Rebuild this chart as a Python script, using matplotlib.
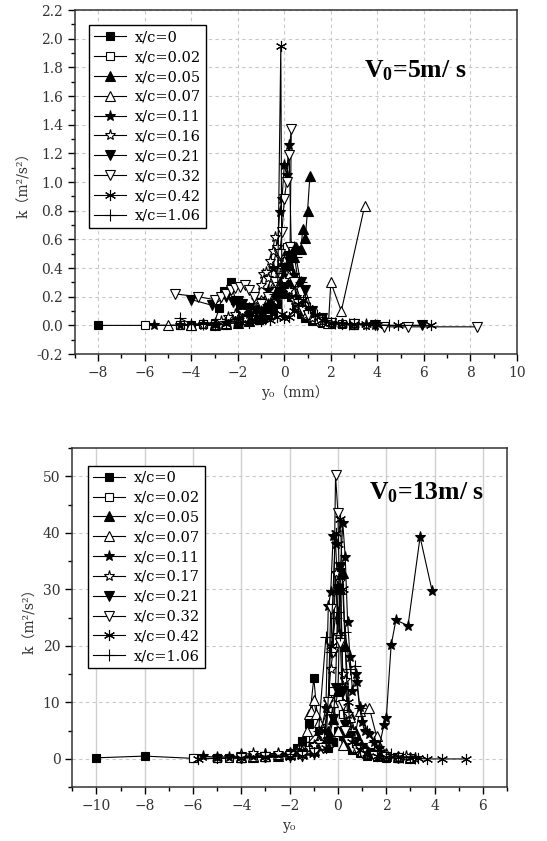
import matplotlib
matplotlib.use("Agg")
import matplotlib.pyplot as plt
from matplotlib.ticker import MultipleLocator, FormatStrFormatter

plt.rcParams['mathtext.fontset'] = 'custom'
plt.rcParams['mathtext.rm'] = 'Liberation Serif'
plt.rcParams['mathtext.bf'] = 'Liberation Serif:bold'
plt.rcParams['axes.unicode_minus'] = True

labels_top = ["x/c=0", "x/c=0.02", "x/c=0.05", "x/c=0.07", "x/c=0.11",
              "x/c=0.16", "x/c=0.21", "x/c=0.32", "x/c=0.42", "x/c=1.06"]
labels_bot = ["x/c=0", "x/c=0.02", "x/c=0.05", "x/c=0.07", "x/c=0.11",
              "x/c=0.17", "x/c=0.21", "x/c=0.32", "x/c=0.42", "x/c=1.06"]

# ---------------- V0 = 5 m/s ----------------
t0_x = [-8, -4.5, -4.0, -3.5, -3.0, -2.8, -2.6, -2.3, -2.1, -1.9, -1.7, -1.5, -1.3, -1.1, -0.9, -0.7, -0.5, -0.3, -0.1, 0.1, 0.3, 0.5, 0.7, 0.9, 1.2, 1.6, 2.0, 3.0]
t0_y = [0.0, 0.0, 0.0, 0.01, 0.02, 0.12, 0.24, 0.30, 0.18, 0.12, 0.09, 0.07, 0.05, 0.04, 0.05, 0.07, 0.10, 0.15, 0.22, 0.28, 0.20, 0.12, 0.08, 0.05, 0.03, 0.02, 0.01, 0.0]
t1_x = [-6, -4.5, -3.5, -3.0, -2.5, -2.0, -1.6, -1.2, -0.8, -0.5, -0.3, -0.1, 0.1, 0.3, 0.5, 0.7, 0.9, 1.2, 1.6, 2.0, 2.5, 3.0]
t1_y = [0.0, 0.0, 0.01, 0.01, 0.02, 0.03, 0.04, 0.06, 0.10, 0.18, 0.30, 0.45, 0.55, 0.48, 0.30, 0.15, 0.08, 0.05, 0.03, 0.02, 0.01, 0.0]
t2_x = [-4.0, -3.0, -2.5, -2.0, -1.5, -1.2, -1.0, -0.8, -0.6, -0.4, -0.2, 0.0, 0.2, 0.4, 0.5, 0.7, 0.8, 0.9, 1.0, 1.1]
t2_y = [0.0, 0.0, 0.01, 0.02, 0.03, 0.05, 0.08, 0.12, 0.18, 0.22, 0.28, 0.35, 0.42, 0.48, 0.55, 0.53, 0.67, 0.61, 0.80, 1.04]
t3_x = [-5.0, -4.0, -3.0, -2.5, -2.0, -1.5, -1.0, -0.7, -0.4, -0.2, 0.0, 0.2, 0.4, 0.6, 0.8, 1.0, 1.3, 1.6, 1.9, 2.0, 2.45, 3.45]
t3_y = [0.0, 0.0, 0.01, 0.02, 0.05, 0.10, 0.18, 0.22, 0.30, 0.40, 0.45, 0.35, 0.25, 0.18, 0.12, 0.08, 0.05, 0.03, 0.02, 0.30, 0.10, 0.83]
t4_x = [-5.6, -4.5, -3.5, -3.0, -2.5, -2.0, -1.5, -1.0, -0.7, -0.5, -0.3, -0.2, -0.1, 0.0, 0.1, 0.2, 0.3, 0.4, 0.5, 0.7, 0.9, 1.2, 1.6, 2.0, 2.5, 3.0, 3.5, 3.9]
t4_y = [0.0, 0.0, 0.01, 0.01, 0.03, 0.05, 0.08, 0.12, 0.25, 0.40, 0.55, 0.79, 0.88, 1.12, 1.05, 1.26, 0.55, 0.35, 0.20, 0.12, 0.08, 0.05, 0.03, 0.02, 0.01, 0.01, 0.0, 0.0]
t5_x = [-3.5, -3.0, -2.7, -2.4, -2.1, -1.8, -1.5, -1.2, -1.0, -0.9, -0.8, -0.7, -0.6, -0.5, -0.4, -0.3, -0.2, -0.1, 0.0, 0.2, 0.4, 0.6, 0.9, 1.2, 1.6, 2.0, 2.5, 3.0, 3.5]
t5_y = [0.0, 0.01, 0.03, 0.06, 0.08, 0.10, 0.12, 0.18, 0.28, 0.36, 0.37, 0.33, 0.45, 0.52, 0.62, 0.55, 0.48, 0.40, 0.32, 0.25, 0.18, 0.12, 0.07, 0.05, 0.03, 0.02, 0.01, 0.01, 0.0]
t6_x = [-4.0, -3.1, -2.5, -2.2, -2.0, -1.8, -1.5, -1.2, -0.9, -0.6, -0.3, 0.0, 0.2, 0.4, 0.6, 0.7, 0.9, 1.2, 1.6, 2.0, 3.0, 3.9, 5.9]
t6_y = [0.18, 0.14, 0.20, 0.16, 0.17, 0.15, 0.12, 0.10, 0.08, 0.12, 0.20, 0.40, 0.48, 0.52, 0.30, 0.30, 0.25, 0.10, 0.05, 0.02, 0.01, 0.0, 0.0]
t7_x = [-4.7, -3.7, -3.0, -2.7, -2.5, -2.3, -2.1, -1.9, -1.7, -1.5, -1.3, -1.0, -0.7, -0.4, -0.2, -0.1, 0.0, 0.1, 0.2, 0.3, 0.25, 0.4, 0.6, 0.8, 1.0, 1.5, 2.0, 3.0, 4.3, 5.3, 8.3]
t7_y = [0.22, 0.20, 0.18, 0.20, 0.22, 0.25, 0.26, 0.27, 0.28, 0.25, 0.20, 0.15, 0.20, 0.30, 0.50, 0.65, 0.88, 1.00, 1.19, 1.37, 0.55, 0.30, 0.15, 0.10, 0.07, 0.04, 0.02, 0.01, -0.01, -0.01, -0.01]
t8_x = [-3.0, -2.5, -2.0, -1.5, -1.0, -0.6, -0.3, -0.15, -0.1, 0.0, 0.2, 0.4, 0.6, 0.8, 1.0, 1.3, 1.6, 2.0, 2.5, 3.0, 3.5, 4.0, 4.9, 6.3]
t8_y = [0.0, 0.01, 0.02, 0.02, 0.03, 0.04, 0.06, 1.95, 0.08, 0.05, 0.06, 0.10, 0.15, 0.18, 0.12, 0.07, 0.04, 0.02, 0.01, 0.01, 0.01, 0.0, 0.0, 0.0]
t9_x = [-4.5, -4.0, -3.5, -3.0, -2.5, -2.0, -1.5, -1.0, -0.7, -0.4, -0.2, 0.0, 0.2, 0.4, 0.5, 0.7, 0.9, 1.1, 1.4, 1.8, 2.2, 2.8, 3.5, 4.5]
t9_y = [0.05, 0.01, 0.01, 0.02, 0.03, 0.05, 0.07, 0.10, 0.15, 0.22, 0.30, 0.40, 0.50, 0.55, 0.48, 0.30, 0.20, 0.12, 0.07, 0.04, 0.02, 0.01, 0.01, 0.0]

# ---------------- V0 = 13 m/s ----------------
b0_x = [-10, -8, -6, -5, -4, -3, -2.5, -2, -1.7, -1.5, -1.2, -1.0, -0.8, -0.6, -0.4, -0.2, 0.0, 0.2, 0.4, 0.6, 0.9, 1.2, 1.6, 2.0, 2.5]
b0_y = [0.2, 0.5, 0.1, 0.1, 0.2, 0.3, 0.5, 1.0, 2.0, 3.2, 6.2, 14.3, 5.0, 3.0, 2.0, 3.0, 5.0, 4.0, 2.5, 1.5, 1.0, 0.6, 0.4, 0.2, 0.1]
b1_x = [-6, -5, -4.5, -4, -3.5, -3, -2.5, -2, -1.5, -1.0, -0.7, -0.4, -0.2, 0.0, 0.1, 0.2, 0.4, 0.6, 0.8, 1.0, 1.3, 1.6, 2.0, 2.5, 3.0]
b1_y = [0.1, 0.1, 0.1, 0.2, 0.3, 0.4, 0.5, 0.7, 1.0, 2.0, 5.5, 9.0, 12.0, 11.0, 12.5, 8.0, 5.0, 3.0, 2.0, 1.2, 0.8, 0.5, 0.3, 0.2, 0.1]
b2_x = [-4, -3.5, -3, -2.5, -2, -1.5, -1.0, -0.6, -0.4, -0.2, 0.0, 0.1, 0.2, 0.3, 0.5, 0.7, 0.9, 1.2, 1.5, 2.0, 2.5, 3.0]
b2_y = [0.3, 0.4, 0.5, 0.6, 0.8, 1.0, 1.5, 3.0, 5.0, 7.0, 12.0, 30.0, 33.0, 20.0, 8.0, 5.0, 3.0, 1.5, 1.0, 0.5, 0.3, 0.2]
b3_x = [-4, -3.5, -3, -2.5, -2, -1.6, -1.3, -1.2, -1.1, -1.0, -0.9, -0.8, -0.6, -0.4, -0.2, 0.0, 0.2, 0.4, 0.5, 0.7, 0.9, 1.1, 1.3, 1.6, 2.0, 2.5, 3.0]
b3_y = [0.3, 0.5, 0.6, 0.8, 1.0, 2.0, 5.0, 8.0, 8.5, 10.5, 8.0, 6.5, 4.0, 3.0, 10.0, 5.0, 2.5, 6.0, 7.5, 4.0, 8.5, 9.0, 9.0, 4.0, 1.0, 0.5, 0.3]
b4_x = [-5.6, -5.0, -4.5, -4.0, -3.5, -3.0, -2.5, -2.0, -1.5, -1.0, -0.7, -0.5, -0.4, -0.3, -0.2, -0.1, 0.0, 0.1, 0.2, 0.3, 0.4, 0.5, 0.6, 0.75, 0.8, 0.9, 1.0, 1.1, 1.3, 1.5, 1.7, 1.9, 2.0, 2.2, 2.4, 2.9, 3.4, 3.9]
b4_y = [0.5, 0.3, 0.4, 0.5, 0.6, 0.8, 0.9, 1.0, 1.2, 2.0, 5.0, 9.0, 27.0, 29.5, 39.5, 38.0, 30.0, 33.5, 41.8, 35.8, 24.3, 18.1, 12.0, 15.1, 13.6, 9.2, 6.5, 5.0, 4.5, 3.0, 2.0, 6.0, 7.2, 20.1, 24.6, 23.6, 39.3, 29.7]
b5_x = [-4.0, -3.5, -3.0, -2.5, -2.0, -1.5, -1.2, -1.0, -0.8, -0.6, -0.4, -0.3, -0.2, -0.1, 0.0, 0.1, 0.2, 0.3, 0.4, 0.6, 0.8, 1.0, 1.3, 1.6, 2.0, 2.5, 2.8, 3.2]
b5_y = [0.8, 1.0, 0.9, 1.0, 1.1, 1.5, 2.0, 2.5, 3.0, 4.0, 10.0, 16.0, 19.0, 33.0, 22.0, 31.5, 15.0, 14.0, 8.0, 5.0, 3.0, 2.0, 1.0, 0.6, 0.4, 0.3, 0.5, 0.2]
b6_x = [-4.0, -3.0, -2.0, -1.5, -1.0, -0.6, -0.4, -0.2, -0.1, 0.0, 0.1, 0.2, 0.3, 0.5, 0.7, 1.0, 1.3, 1.6, 2.0, 2.5]
b6_y = [0.2, 0.3, 0.5, 0.8, 1.0, 2.0, 3.0, 7.0, 12.5, 30.0, 34.0, 12.0, 6.0, 4.0, 3.0, 2.0, 1.0, 0.6, 0.3, 0.2]
b7_x = [-4.0, -3.0, -2.0, -1.5, -1.0, -0.6, -0.4, -0.3, -0.2, -0.1, 0.0, 0.1, 0.2, 0.3, 0.4, 0.6, 0.8, 1.0, 1.5, 2.0, 2.5]
b7_y = [0.2, 0.3, 0.5, 0.6, 1.0, 2.0, 10.0, 26.5, 19.0, 50.2, 43.5, 20.5, 9.5, 5.0, 3.0, 2.0, 1.5, 1.0, 0.5, 0.3, 0.2]
b8_x = [-5.8, -5.0, -4.0, -3.0, -2.0, -1.5, -1.0, -0.5, -0.3, -0.1, 0.0, 0.1, 0.2, 0.4, 0.6, 0.9, 1.2, 1.6, 2.0, 2.5, 3.0, 3.3, 3.7, 4.3, 5.3]
b8_y = [0.0, 0.1, 0.2, 0.3, 0.4, 0.5, 0.8, 2.0, 20.0, 40.0, 38.0, 42.5, 30.0, 10.0, 3.0, 1.5, 1.0, 0.6, 0.4, 0.3, 0.2, 0.1, 0.0, 0.0, 0.0]
b9_x = [-4.0, -3.0, -2.0, -1.6, -1.2, -0.8, -0.5, -0.3, -0.1, 0.0, 0.1, 0.3, 0.5, 0.7, 0.9, 1.2, 1.5, 1.8, 2.2, 2.7, 3.2]
b9_y = [0.3, 0.5, 0.8, 2.5, 3.0, 5.0, 21.5, 19.0, 25.0, 26.0, 22.0, 22.5, 16.0, 16.5, 9.0, 5.0, 3.0, 1.5, 0.8, 0.4, 0.2]

top_series = [(t0_x, t0_y), (t1_x, t1_y), (t2_x, t2_y), (t3_x, t3_y), (t4_x, t4_y),
              (t5_x, t5_y), (t6_x, t6_y), (t7_x, t7_y), (t8_x, t8_y), (t9_x, t9_y)]
bot_series = [(b0_x, b0_y), (b1_x, b1_y), (b2_x, b2_y), (b3_x, b3_y), (b4_x, b4_y),
              (b5_x, b5_y), (b6_x, b6_y), (b7_x, b7_y), (b8_x, b8_y), (b9_x, b9_y)]

styles = [
    dict(marker='s', mfc='black', ms=5.5),
    dict(marker='s', mfc='white', ms=5.5),
    dict(marker='^', mfc='black', ms=7),
    dict(marker='^', mfc='white', ms=7),
    dict(marker='*', mfc='black', ms=8),
    dict(marker='*', mfc='white', ms=8),
    dict(marker='v', mfc='black', ms=7),
    dict(marker='v', mfc='white', ms=7),
    dict(marker=(6, 2, 0), mfc='black', ms=8),
    dict(marker='+', mfc='black', ms=8),
]

FONT = ['DejaVu Serif', 'Noto Sans CJK SC']
TICKFS = 10

fig = plt.figure(figsize=(5.47, 8.41), dpi=100)
ax1 = fig.add_axes([0.137, 0.579, 0.808, 0.409])
ax2 = fig.add_axes([0.132, 0.064, 0.795, 0.403])


def draw(ax, series, labels):
    for (xs, ys), st, lab in zip(series, styles, labels):
        ax.plot(xs, ys, color='black', lw=0.8, mec='black', mew=0.8,
                label=lab, **st)


def style_axes(ax):
    for sp in ax.spines.values():
        sp.set_linewidth(1.1)
        sp.set_color('#333333')
    ax.tick_params(which='major', direction='out', length=5, width=1,
                   labelsize=TICKFS, top=False, right=False)
    ax.tick_params(which='minor', direction='out', length=3, width=1,
                   top=False, right=False)
    for lab in ax.get_xticklabels() + ax.get_yticklabels():
        lab.set_family(FONT)
        lab.set_color('#333333')


draw(ax1, top_series, labels_top)
ax1.set_xlim(-9, 10)
ax1.set_ylim(-0.2, 2.2)
ax1.xaxis.set_major_locator(MultipleLocator(2))
ax1.xaxis.set_minor_locator(MultipleLocator(1))
ax1.yaxis.set_major_locator(MultipleLocator(0.2))
ax1.yaxis.set_minor_locator(MultipleLocator(0.1))
ax1.yaxis.set_major_formatter(FormatStrFormatter('%.1f'))
ax1.grid(True, which='major', color='#c8c8c8', ls=(0, (3, 3)), lw=0.8)
ax1.set_axisbelow(True)
style_axes(ax1)
ax1.set_xlabel('y₀（mm）', family=FONT, fontsize=10, color='#333333')
ax1.set_ylabel('k（m²/s²）', family=FONT, fontsize=10, color='#333333')
leg1 = ax1.legend(loc='upper left', bbox_to_anchor=(0.016, 0.977), numpoints=1,
                  handlelength=2.2, labelspacing=0.4, borderpad=0.35,
                  handletextpad=0.6, fancybox=False, edgecolor='black',
                  framealpha=1, prop={'family': FONT, 'size': 10.5})
leg1.get_frame().set_linewidth(1.0)
ax1.text(0.77, 0.823, r'$\mathbf{V_0}$=5m/ s', transform=ax1.transAxes,
         ha='center', va='center', fontsize=18.5, fontweight='bold',
         family='Liberation Serif')

draw(ax2, bot_series, labels_bot)
ax2.set_xlim(-11, 7)
ax2.set_ylim(-5, 55)
ax2.xaxis.set_major_locator(MultipleLocator(2))
ax2.xaxis.set_minor_locator(MultipleLocator(1))
ax2.yaxis.set_major_locator(MultipleLocator(10))
ax2.yaxis.set_minor_locator(MultipleLocator(5))
ax2.xaxis.grid(True, which='major', color='#d0d0d0', ls='-', lw=1.0)
ax2.yaxis.grid(True, which='major', color='#c8c8c8', ls=(0, (3, 3)), lw=0.8)
ax2.set_axisbelow(True)
style_axes(ax2)
ax2.set_xlabel('y₀', family=FONT, fontsize=10, color='#333333')
ax2.set_ylabel('k（m²/s²）', family=FONT, fontsize=10, color='#333333')
leg2 = ax2.legend(loc='upper left', bbox_to_anchor=(0.02, 0.97), numpoints=1,
                  handlelength=2.2, labelspacing=0.4, borderpad=0.35,
                  handletextpad=0.6, fancybox=False, edgecolor='black',
                  framealpha=1, prop={'family': FONT, 'size': 10.5})
leg2.get_frame().set_linewidth(1.0)
ax2.text(0.816, 0.87, r'$\mathbf{V_0}$=13m/ s', transform=ax2.transAxes,
         ha='center', va='center', fontsize=18.5, fontweight='bold',
         family='Liberation Serif')

fig.savefig('out.png', dpi=100)
